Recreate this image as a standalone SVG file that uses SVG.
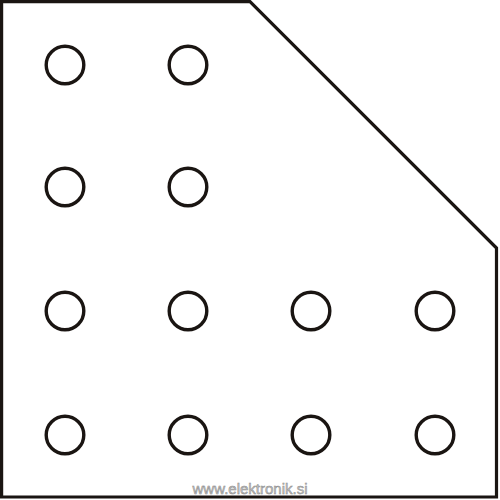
<svg xmlns="http://www.w3.org/2000/svg" width="500" height="500" viewBox="0 0 500 500">
<style>
.plate{fill:#fff;stroke:#1a1512;stroke-width:3.2;stroke-linejoin:miter}
.hole{fill:#fff;stroke:#1a1512;stroke-width:3.4}
.wm{font-family:"Liberation Sans",Arial,sans-serif;font-size:15px;fill:#c8c8c8;stroke:#8a8a8a;stroke-width:0.5}
</style>
<rect width="500" height="500" fill="#fff"/>
<g id="plate"><polygon class="plate" points="1.6,1.6 250,1.6 496.5,248 496.5,497 1.6,497"/></g>
<g id="holes">
<circle id="h1" class="hole" cx="65" cy="65" r="18.8"/>
<circle id="h2" class="hole" cx="188" cy="65" r="18.8"/>
<circle id="h3" class="hole" cx="65" cy="187" r="18.8"/>
<circle id="h4" class="hole" cx="188" cy="187" r="18.8"/>
<circle id="h5" class="hole" cx="65" cy="311" r="18.8"/>
<circle id="h6" class="hole" cx="188" cy="311" r="18.8"/>
<circle id="h7" class="hole" cx="311" cy="311" r="18.8"/>
<circle id="h8" class="hole" cx="435" cy="311" r="18.8"/>
<circle id="h9" class="hole" cx="65" cy="435" r="18.8"/>
<circle id="h10" class="hole" cx="188" cy="435" r="18.8"/>
<circle id="h11" class="hole" cx="311" cy="435" r="18.8"/>
<circle id="h12" class="hole" cx="435" cy="435" r="18.8"/>
</g>
<g id="connectors"></g>
<text class="wm" x="250" y="494" text-anchor="middle">www.elektronik.si</text>
</svg>
